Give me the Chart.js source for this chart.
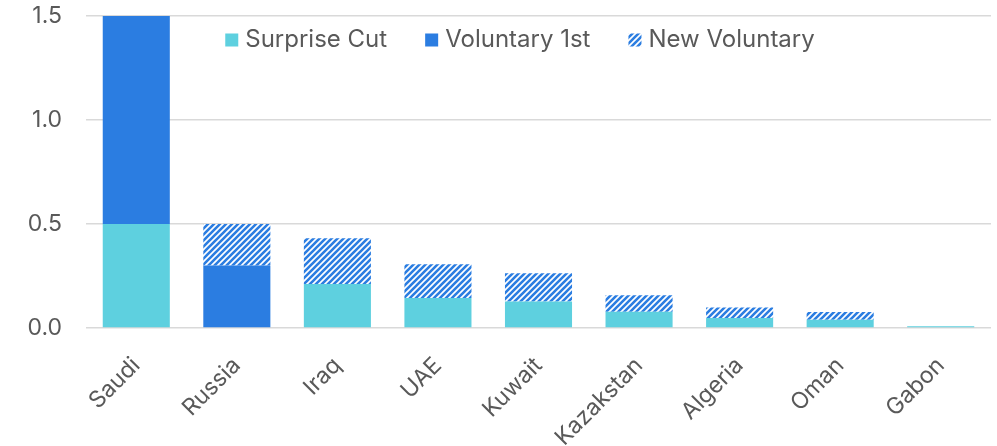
<!DOCTYPE html>
<html>
<head>
<meta charset="utf-8">
<script src="https://cdn.jsdelivr.net/npm/chart.js@4/dist/chart.umd.min.js"></script>
<style>
  html, body { margin: 0; padding: 0; background: #ffffff; }
  #wrap { width: 997px; height: 446px; position: relative; }
</style>
</head>
<body>
<div id="wrap"><canvas id="c" width="997" height="446"></canvas></div>
<script>
// ---- data ----
const categories = ['Saudi', 'Russia', 'Iraq', 'UAE', 'Kuwait', 'Kazakstan', 'Algeria', 'Oman', 'Gabon'];
const surpriseCut = [0.5, 0, 0.211, 0.144, 0.128, 0.078, 0.048, 0.040, 0.008];
const voluntaryFirst = [1.0, 0.3, 0, 0, 0, 0, 0, 0, 0];
const newVoluntary = [0, 0.2, 0.22, 0.163, 0.135, 0.08, 0.05, 0.037, 0];
const seriesNames = ['Surprise Cut', 'Voluntary 1st', 'New Voluntary'];
const yTicks = [0, 0.5, 1.0, 1.5];

const TEAL = '#5ED0DF';
const BLUE = '#2B7DE1';
const TEXT = '#595959';
const FONT = 'Inter, "Noto Sans", sans-serif';

function makeHatch() {
  const s = 6;
  const p = document.createElement('canvas');
  p.width = s; p.height = s;
  const g = p.getContext('2d');
  g.fillStyle = '#ffffff';
  g.fillRect(0, 0, s, s);
  g.strokeStyle = BLUE;
  g.lineWidth = 2.6;
  g.beginPath();
  g.moveTo(-1, s + 1); g.lineTo(s + 1, -1);
  g.moveTo(-s / 2 - 1, s / 2 + 1); g.lineTo(s / 2 + 1, -s / 2 - 1);
  g.moveTo(s / 2 - 1, s * 1.5 + 1); g.lineTo(s * 1.5 + 1, s / 2 - 1);
  g.stroke();
  return document.getElementById('c').getContext('2d').createPattern(p, 'repeat');
}
const hatch = makeHatch();

const legendPlugin = {
  id: 'customLegend',
  afterDraw(chart) {
    const ctx = chart.ctx;
    ctx.save();
    ctx.font = '24px ' + FONT;
    ctx.textBaseline = 'middle';
    const box = 13, gapText = 7, gapItem = 38;
    const items = chart.data.datasets.map(d => ({ label: d.label, fill: d.backgroundColor, w: ctx.measureText(d.label).width }));
    let total = 0;
    items.forEach((it, i) => { total += box + gapText + it.w + (i < items.length - 1 ? gapItem : 0); });
    let x = 520 - total / 2;
    const y = 40;
    items.forEach(it => {
      ctx.fillStyle = it.fill;
      ctx.fillRect(x, y - box / 2, box, box);
      x += box + gapText;
      ctx.fillStyle = TEXT;
      ctx.fillText(it.label, x, y);
      x += it.w + gapItem;
    });
    ctx.restore();
  }
};

new Chart(document.getElementById('c'), {
  type: 'bar',
  data: {
    labels: categories,
    datasets: [
      { label: seriesNames[0], data: surpriseCut, backgroundColor: TEAL },
      { label: seriesNames[1], data: voluntaryFirst, backgroundColor: BLUE },
      { label: seriesNames[2], data: newVoluntary, backgroundColor: hatch }
    ]
  },
  options: {
    responsive: false,
    animation: false,
    devicePixelRatio: 1,
    layout: { padding: { top: 16, right: 6, left: 0, bottom: 0 } },
    plugins: {
      legend: { display: false },
      tooltip: { enabled: false }
    },
    datasets: { bar: { categoryPercentage: 1.0, barPercentage: 0.667, borderWidth: 0 } },
    scales: {
      x: {
        stacked: true,
        grid: { display: false, drawTicks: false },
        border: { display: false },
        ticks: {
          color: TEXT,
          font: { family: FONT, size: 23 },
          maxRotation: 45,
          minRotation: 45,
          padding: 24
        },
        afterFit(s) { s.height = 118; s.paddingLeft = 0; s.paddingRight = 0; }
      },
      y: {
        stacked: true,
        min: 0,
        max: 1.5,
        afterBuildTicks(s) { s.ticks = yTicks.map(v => ({ value: v })); },
        grid: { color: '#d9d9d9', lineWidth: 1.5, drawTicks: false },
        border: { display: false },
        ticks: {
          color: TEXT,
          font: { family: FONT, size: 23 },
          padding: 24,
          callback: v => Number(v).toFixed(1)
        },
        afterFit(s) { s.width = 86; s.paddingTop = 0; s.paddingBottom = 0; }
      }
    }
  },
  plugins: [legendPlugin]
});
</script>
</body>
</html>
